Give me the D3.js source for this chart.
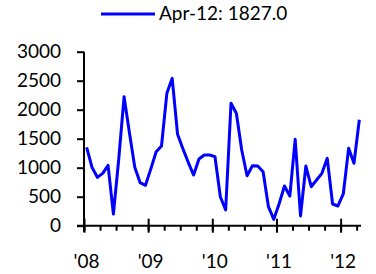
<!DOCTYPE html>
<html><head><meta charset="utf-8">
<script src="https://cdn.jsdelivr.net/npm/d3@7"></script>
<style>
html,body{margin:0;padding:0;background:#fff;}
svg{display:block;font-family:Lato,"Open Sans",sans-serif;}
</style></head>
<body>
<svg id="c" width="376" height="274"></svg>
<script>
// Monthly values Jan-08 .. Apr-12
const startYear = 2008;
const values = [
  1350, 1006, 834, 903, 1041, 202, 1150, 2224, 1600, 1006, 741, 697,
  980, 1276, 1374, 2283, 2541, 1576, 1328, 1093, 874, 1150, 1219, 1219,
  1190, 500, 271, 2110, 1938, 1305, 862, 1034, 1029, 931, 328, 110,
  380, 684, 512, 1490, 167, 1029, 672, 788, 903, 1162, 374, 340,
  547, 1334, 1076, 1827
];
const yTicks = [0, 500, 1000, 1500, 2000, 2500, 3000];
const yearLabels = ["'08", "'09", "'10", "'11", "'12"];
const legendLabel = "Apr-12: 1827.0";

const svg = d3.select("#c");
const x = d3.scaleLinear().domain([0, 52]).range([84, 362]);
const y = d3.scaleLinear().domain([0, 3000]).range([225.7, 51.7]);

// Y axis
const gy = svg.append("g").attr("transform", "translate(84,0)")
  .call(d3.axisLeft(y).tickValues(yTicks).tickSize(7).tickPadding(16).tickSizeOuter(0)
    .tickFormat(d3.format("d")));
gy.select(".domain").attr("stroke", "#000").attr("stroke-width", 2)
  .attr("d", `M0,${y(3000)}V232`);
gy.selectAll(".tick line").attr("stroke", "#000").attr("stroke-width", 2);
gy.selectAll(".tick text").attr("font-size", 19).attr("fill", "#000")
  .attr("font-family", "Lato,'Open Sans',sans-serif");

// X axis minor ticks (quarterly)
const quarterTicks = d3.range(0, 52, 3);
const gx = svg.append("g").attr("transform", `translate(0,${y(0)})`)
  .call(d3.axisBottom(x).tickValues(quarterTicks).tickSize(5).tickFormat("").tickSizeOuter(0));
gx.select(".domain").attr("stroke", "#000").attr("stroke-width", 2)
  .attr("d", `M77,0H361`);
gx.selectAll(".tick line").attr("stroke", "#000").attr("stroke-width", 2);

// Major year ticks crossing the axis + labels
const yearIdx = yearLabels.map((d, i) => i * 12);
const gx2 = svg.append("g").attr("transform", `translate(0,${y(0) - 7})`)
  .call(d3.axisBottom(x).tickValues(yearIdx).tickSize(14).tickPadding(22)
    .tickFormat((d, i) => yearLabels[i]).tickSizeOuter(0));
gx2.select(".domain").remove();
gx2.selectAll(".tick line").attr("stroke", "#000").attr("stroke-width", 2);
gx2.selectAll(".tick text").attr("font-size", 19).attr("fill", "#000").attr("dx", 2)
  .attr("font-family", "Lato,'Open Sans',sans-serif");

// Line
const line = d3.line().x((d, i) => x(i + 0.5)).y(d => y(d));
svg.append("path").datum(values).attr("d", line)
  .attr("fill", "none").attr("stroke", "#0000ff").attr("stroke-width", 3)
  .attr("stroke-linejoin", "round");

// Legend
svg.append("line").attr("x1", 101).attr("x2", 155).attr("y1", 14).attr("y2", 14)
  .attr("stroke", "#0000ff").attr("stroke-width", 3);
svg.append("text").attr("x", 159).attr("y", 20).attr("font-size", 19).attr("fill", "#000")
  .text(legendLabel);
</script>
</body></html>
